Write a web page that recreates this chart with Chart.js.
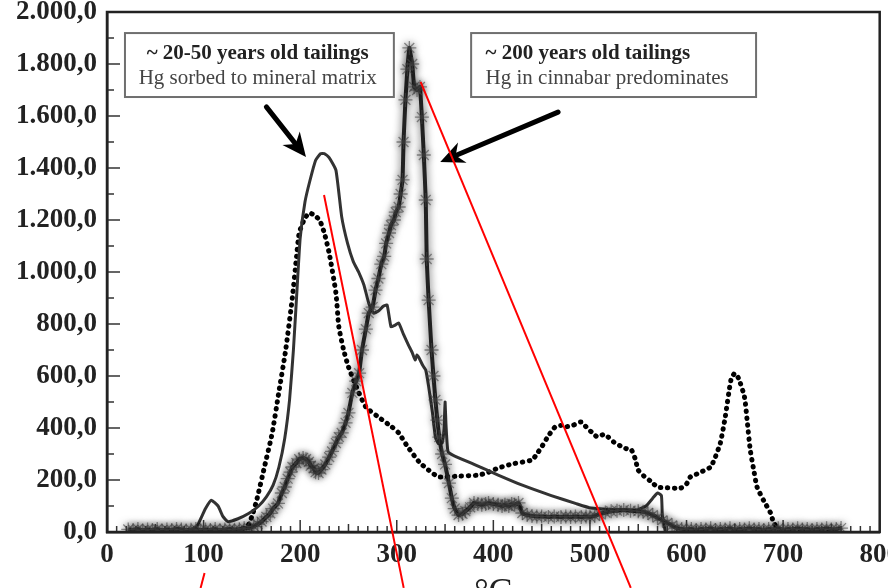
<!DOCTYPE html>
<html>
<head>
<meta charset="utf-8">
<script src="https://cdn.jsdelivr.net/npm/chart.js@4.4.1/dist/chart.umd.min.js"></script>
<style>
  html, body { margin: 0; padding: 0; background: #fff; overflow: hidden; width: 888px; height: 588px; }
  #wrap { width: 888px; height: 615px; }
</style>
</head>
<body>
<div id="wrap"><canvas id="c" width="888" height="615"></canvas></div>
<script>
// ---- Data ----
// Temperature (°C) and Hg signal for the three thermo-desorption curves
const youngSolidT  = [25,50,75,90,95,102,108,115,120,125,135,147,157,165,172,178,184,189,193,197,200,205,210,216,221,225,230,237,243,249,255,261,266,271,276,281,286,290,294,298,302,307,312,316,319,321,323,327,330,333,337,340,343,347,349,350,351,353,358,380,405,430,460,485,501,520,549,558,565,570,574,575,578];
const youngSolidHg = [5,5,5,10,35,90,122,100,60,40,50,72,100,135,180,250,360,508,700,950,1130,1270,1350,1430,1455,1455,1440,1392,1212,1111,1040,996,950,880,842,850,868,873,790,795,804,760,720,690,662,681,670,640,623,560,458,365,340,342,400,500,410,310,296,260,219,180,140,110,92,87,85,100,130,150,140,60,3];

const youngDotT  = [25,60,100,130,145,150,155,163,171,178,185,192,196,199,204,209,214,220,225,230,237,240,245,250,258,268,280,295,302,310,323,333,343,350,365,385,395,405,420,440,445,450,457,464,470,474,482,491,497,503,508,514,519,525,532,538,543,547,550,556,563,570,580,594,600,604,612,620,625,630,635,640,646,650,654,660,663,666,670,673,680,687,690,695,700,760];
const youngDotHg = [3,3,3,5,20,60,123,250,380,540,700,905,1050,1150,1200,1227,1220,1200,1150,1073,919,790,700,635,560,481,445,404,381,335,270,238,212,212,215,219,230,246,262,277,300,327,370,404,410,404,410,423,400,380,365,375,365,345,330,320,315,280,238,215,195,173,170,169,185,212,225,240,250,290,342,440,585,611,590,519,420,315,230,173,120,73,38,10,3,3];

const oldStarT  = [22,27,32,37,42,47,52,57,62,67,72,77,82,87,92,97,102,107,112,117,122,127,132,137,142,147,152,156,160,165,169,172,177,181,184,187,190,192,196,199,203,206,209,211,214,216,219,222,226,230,233,237,240,243,247,250,254,258,261,264,268,271,275,278,281,284,287,289,292,294,297,299,302,304,306,307,309,311,313,316,318,321,324,326,328,330,331,333,336,338,340,342,344,347,350,354,357,360,364,368,371,376,380,384,388,392,395,400,405,409,412,416,419,422,426,430,435,440,445,450,457,463,470,475,480,485,491,496,500,505,510,516,522,528,535,542,550,555,560,565,570,575,580,585,590,595,600,605,610,615,620,625,630,635,640,645,650,655,660,665,670,675,680,685,690,695,700,705,710,715,720,725,730,735,740,745,750,755,760];
const oldStarHg = [10,8,12,6,10,8,12,6,10,8,12,10,6,9,12,7,10,8,12,7,10,12,9,11,14,15,22,30,40,58,72,90,110,150,173,205,230,250,265,280,285,280,270,255,245,230,227,240,260,288,310,342,365,381,420,458,535,580,611,700,780,842,865,930,975,1030,1060,1110,1150,1180,1200,1230,1250,1300,1354,1500,1662,1780,1862,1800,1712,1700,1712,1596,1450,1277,1050,892,700,600,508,430,365,300,260,188,130,90,65,70,80,95,112,108,105,108,112,108,105,100,105,100,108,105,112,73,65,62,60,60,58,60,58,60,58,60,58,60,58,62,70,75,80,82,85,82,80,78,73,65,55,45,35,25,15,12,10,12,8,12,10,14,8,12,10,14,8,12,10,14,10,12,8,12,10,14,8,12,10,14,10,12,8,12,10,14,10,12,15];

const seriesNames = ['~ 20-50 years old tailings (dotted)', '~ 20-50 years old tailings', '~ 200 years old tailings'];
const xTicks = [0,100,200,300,400,500,600,700,800];
const yTicks = [0,200,400,600,800,1000,1200,1400,1600,1800,2000];
const xTitle = '°C';
const note1 = ['~ 20-50 years old tailings', 'Hg sorbed to mineral matrix'];
const note2 = ['~ 200 years old tailings', 'Hg in cinnabar predominates'];

function pairs(xs, ys) { return xs.map((x, i) => ({ x: x, y: ys[i] })); }
function fmtY(v) {
  const n = Math.round(v).toString();
  const withDots = n.replace(/\B(?=(\d{3})+(?!\d))/g, '.');
  return withDots + ',0';
}

// fuzzy halo for the star-marked curve
const halo = {
  id: 'halo',
  beforeDatasetDraw(chart, args) {
    if (args.index === 2) {
      chart.ctx.save();
      chart.ctx.shadowColor = 'rgba(0,0,0,0.7)';
      chart.ctx.shadowBlur = 8;
    }
  },
  afterDatasetDraw(chart, args) {
    if (args.index === 2) chart.ctx.restore();
  }
};

// ---- Decoration plugin: frame, inward ticks, notes, arrows, red guide lines ----
const deco = {
  id: 'deco',
  afterDatasetsDraw(chart) {
    const ctx = chart.ctx;
    const xs = chart.scales.x, ys = chart.scales.y;
    const a = chart.chartArea;
    const px = v => xs.getPixelForValue(v);
    const py = v => ys.getPixelForValue(v);
    ctx.save();
    // inward ticks
    ctx.strokeStyle = '#333';
    ctx.lineWidth = 1.5;
    ctx.beginPath();
    for (let v = 0; v <= 800; v += 10) {
      const len = (v % 100 === 0) ? 12 : (v % 50 === 0 ? 8 : 6);
      const x = px(v);
      ctx.moveTo(x, a.bottom);
      ctx.lineTo(x, a.bottom - len);
    }
    for (let v = 0; v <= 2000; v += 100) {
      const len = (v % 200 === 0) ? 13 : 7;
      const y = py(v);
      ctx.moveTo(a.left, y);
      ctx.lineTo(a.left + len, y);
    }
    ctx.stroke();
    // frame
    ctx.strokeStyle = '#222';
    ctx.lineWidth = 2.5;
    ctx.strokeRect(a.left, a.top, a.right - a.left, a.bottom - a.top);

    // note boxes
    function box(x0, x1, y0, y1) {
      ctx.strokeStyle = '#6f6f6f';
      ctx.lineWidth = 2;
      ctx.strokeRect(px(x0), py(y0), px(x1) - px(x0), py(y1) - py(y0));
    }
    box(18.6, 297, 1919, 1673);
    box(377, 672, 1919, 1673);
    ctx.fillStyle = '#222';
    ctx.textBaseline = 'middle';
    ctx.textAlign = 'center';
    ctx.font = 'bold 21px "Liberation Serif"';
    ctx.fillText(note1[0], px(156), py(1842));
    ctx.font = '21px "Liberation Serif"';
    ctx.fillStyle = '#444';
    ctx.fillText(note1[1], px(156), py(1746));
    ctx.textAlign = 'left';
    ctx.fillStyle = '#222';
    ctx.font = 'bold 21px "Liberation Serif"';
    ctx.fillText(note2[0], px(392), py(1842));
    ctx.font = '21px "Liberation Serif"';
    ctx.fillStyle = '#444';
    ctx.fillText(note2[1], px(392), py(1746));

    // arrows
    function arrow(x0, y0, x1, y1) {
      const X0 = px(x0), Y0 = py(y0), X1 = px(x1), Y1 = py(y1);
      const ang = Math.atan2(Y1 - Y0, X1 - X0);
      const hl = 24, hw = 11;
      const bx = X1 - Math.cos(ang) * hl * 0.7, by = Y1 - Math.sin(ang) * hl * 0.7;
      ctx.strokeStyle = '#000';
      ctx.lineWidth = 5;
      ctx.lineCap = 'round';
      ctx.beginPath();
      ctx.moveTo(X0, Y0);
      ctx.lineTo(bx, by);
      ctx.stroke();
      ctx.fillStyle = '#000';
      ctx.beginPath();
      ctx.moveTo(X1, Y1);
      ctx.lineTo(X1 - Math.cos(ang) * hl - Math.sin(ang) * hw, Y1 - Math.sin(ang) * hl + Math.cos(ang) * hw);
      ctx.lineTo(bx, by);
      ctx.lineTo(X1 - Math.cos(ang) * hl + Math.sin(ang) * hw, Y1 - Math.sin(ang) * hl - Math.cos(ang) * hw);
      ctx.closePath();
      ctx.fill();
    }
    arrow(165, 1635, 206, 1442);
    arrow(467, 1615, 345, 1423);

    // red guide lines
    ctx.strokeStyle = '#ff0000';
    ctx.lineWidth = 2;
    ctx.lineCap = 'butt';
    [[101, -158, 96.9, -215], [224.7, 1296, 307.2, -215], [324.7, 1731, 542.3, -215]].forEach(l => {
      ctx.beginPath();
      ctx.moveTo(px(l[0]), py(l[1]));
      ctx.lineTo(px(l[2]), py(l[3]));
      ctx.stroke();
    });
    ctx.restore();
  }
};

const serif = '"Liberation Serif", "Times New Roman", serif';

new Chart(document.getElementById('c'), {
  type: 'scatter',
  data: {
    datasets: [
      {
        label: seriesNames[0],
        data: pairs(youngDotT, youngDotHg),
        showLine: true,
        borderColor: '#000',
        borderWidth: 5,
        borderDash: [0.5, 6.5],
        borderCapStyle: 'round',
        pointRadius: 0,
        tension: 0.2,
        order: 3
      },
      {
        label: seriesNames[1],
        data: pairs(youngSolidT, youngSolidHg),
        showLine: true,
        borderColor: '#333',
        borderWidth: 3,
        pointRadius: 0,
        tension: 0.15,
        order: 2
      },
      {
        label: seriesNames[2],
        data: pairs(oldStarT, oldStarHg),
        showLine: true,
        borderColor: '#222',
        borderWidth: 4,
        pointStyle: 'star',
        pointRadius: 7,
        pointBorderColor: 'rgba(70,70,70,0.6)',
        pointBackgroundColor: 'rgba(70,70,70,0.6)',
        pointBorderWidth: 1.3,
        tension: 0.1,
        order: 1
      }
    ]
  },
  options: {
    responsive: false,
    animation: false,
    devicePixelRatio: 1,
    layout: { padding: { top: 12, right: 5, left: 0, bottom: 0 } },
    plugins: { legend: { display: false }, tooltip: { enabled: false } },
    scales: {
      x: {
        type: 'linear',
        min: 0, max: 800,
        afterBuildTicks: s => { s.ticks = xTicks.map(v => ({ value: v })); },
        ticks: {
          color: '#222',
          font: { family: serif, size: 27, weight: 'bold' },
          padding: 7,
          maxRotation: 0,
          autoSkip: false
        },
        grid: { display: false, drawTicks: false },
        border: { display: true, color: '#222', width: 2.5 },
        title: {
          display: true,
          text: xTitle,
          color: '#222',
          font: { family: serif, size: 36 },
          padding: { top: 0, bottom: 0 }
        },
        afterFit: s => { s.height = 83; s.paddingLeft = 0; s.paddingRight = 0; }
      },
      y: {
        type: 'linear',
        min: 0, max: 2000,
        afterBuildTicks: s => { s.ticks = yTicks.map(v => ({ value: v })); },
        ticks: {
          color: '#222',
          font: { family: serif, size: 27, weight: 'bold' },
          padding: 10,
          callback: v => fmtY(v)
        },
        grid: { display: false, drawTicks: false },
        border: { display: true, color: '#222', width: 2.5 },
        afterFit: s => { s.width = 107; s.paddingTop = 0; s.paddingBottom = 0; }
      }
    }
  },
  plugins: [halo, deco]
});
</script>
</body>
</html>
